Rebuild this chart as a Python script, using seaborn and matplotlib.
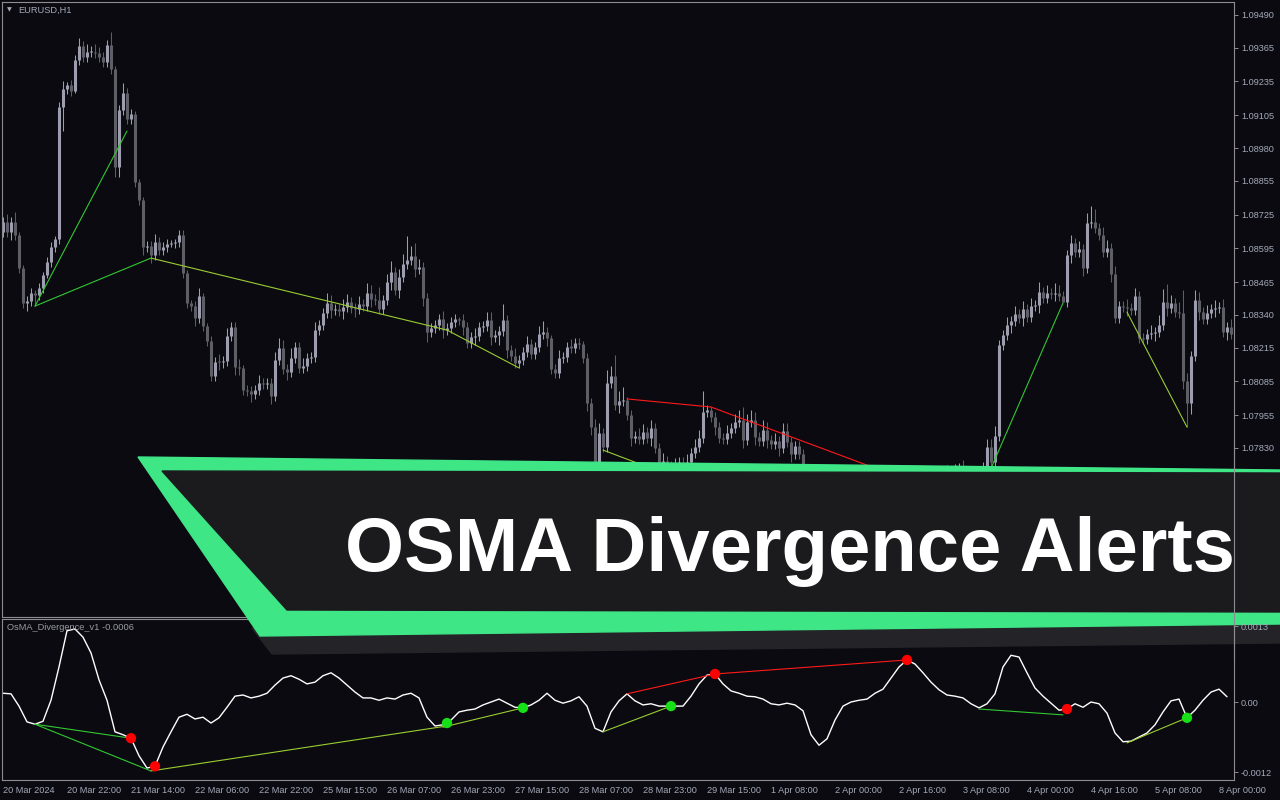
import numpy as np
import pandas as pd
import seaborn as sns
import matplotlib.pyplot as plt
from matplotlib.patches import Polygon
from matplotlib.lines import Line2D
from matplotlib.transforms import Affine2D

# ---------------------------------------------------------------
# Data (EURUSD H1, prices as points above 1.07000)
# ---------------------------------------------------------------
BASE = 1.07
OPEN0 = 1658
closes = [
    1696, 1658, 1696, 1647, 1520, 1386, 1394, 1424, 1416, 1443,
    1493, 1543, 1600, 1631, 2137, 2206, 2222, 2199, 2317, 2371,
    2329, 2348, 2350, 2346, 2329, 2310, 2375, 2283, 1907, 2126,
    2191, 2091, 2110, 1850, 1781, 1600, 1604, 1570, 1620, 1589,
    1600, 1612, 1616, 1620, 1647, 1501, 1386, 1374, 1328, 1413,
    1298, 1240, 1106, 1160, 1158, 1163, 1259, 1294, 1140, 1138,
    1052, 1048, 1037, 1052, 1079, 1075, 1079, 1029, 1167, 1213,
    1133, 1121, 1175, 1217, 1137, 1144, 1175, 1179, 1282, 1301,
    1347, 1386, 1359, 1363, 1355, 1370, 1390, 1367, 1363, 1382,
    1374, 1424, 1401, 1397, 1363, 1397, 1466, 1505, 1436, 1485,
    1535, 1551, 1566, 1516, 1524, 1405, 1275, 1290, 1301, 1324,
    1282, 1290, 1313, 1324, 1322, 1294, 1232, 1255, 1259, 1294,
    1298, 1321, 1255, 1263, 1278, 1321, 1206, 1182, 1156, 1167,
    1198, 1229, 1190, 1217, 1267, 1275, 1252, 1133, 1117, 1175,
    1179, 1217, 1215, 1232, 1230, 1175, 1002, 910, 765, 887,
    834, 1079, 1106, 995, 1010, 1014, 956, 868, 876, 864,
    891, 868, 907, 830, 772, 780, 761, 745, 761, 776,
    761, 776, 811, 834, 868, 968, 976, 949, 910, 868,
    866, 887, 907, 930, 937, 860, 930, 937, 872, 857,
    899, 860, 845, 857, 830, 895, 853, 807, 838, 807,
    745, 715, 684, 661, 692, 646, 623, 654, 677, 642,
    615, 638, 669, 688, 657, 630, 607, 638, 665, 684,
    669, 650, 677, 703, 722, 696, 673, 692, 665, 638,
    611, 630, 654, 677, 700, 719, 734, 711, 738, 753,
    730, 707, 684, 661, 677, 745, 834, 776, 876, 1225,
    1263, 1301, 1317, 1344, 1328, 1363, 1332, 1374, 1378, 1428,
    1405, 1424, 1422, 1424, 1413, 1390, 1570, 1616, 1581, 1593,
    1520, 1692, 1696, 1673, 1647, 1581, 1597, 1497, 1328, 1374,
    1372, 1367, 1359, 1413, 1252, 1248, 1267, 1271, 1275, 1301,
    1390, 1367, 1386, 1351, 1347, 1087, 1002, 1183, 1397, 1351,
    1324, 1347, 1363, 1367, 1370, 1275, 1294, 1267,
]
# wick lengths, one digit per bar, in pips
upper_wick = (
    "2324112212" "1221231223" "2323222512" "4221112232" "2211221123"
    "1122323223" "1222322234" "3242232232" "2432233223" "2432523423"
    "4945322222" "3222122232" "2332262232" "2322342123" "2232212234"
    "2548451223" "3232232232" "2323382122" "2323453432" "4323233222"
    "2232322322" "3223223223" "2323422322" "2322323232" "3222333342"
    "2323232324" "2324322323" "2465233232" "2323222324" "5732493243"
    "23232323"
)
lower_wick = (
    "2232223242" "2122292212" "2222222244" "2222232322" "2212222232"
    "2222322233" "2232222322" "2322222222" "2232232232" "2232222323"
    "2223234222" "3222232232" "2232423222" "2222223222" "2222223333"
    "2222322322" "2232232322" "2322222232" "2222232232" "2322322322"
    "3223223223" "2232232232" "2322232232" "3223223222" "2322232232"
    "2232232223" "2223202322" "3222222322" "2322222232" "2322239423"
    "22232232"
)

# OsMA value on every second bar, in 1e-5
osma = [
    15, 14, -7, -34, -38, -33, 3, 60, 122, 125,
    111, 84, 38, 3, -51, -56, -62, -92, -113, -110,
    -77, -51, -26, -21, -29, -26, -36, -27, -9, 10,
    12, 7, 10, 15, 29, 41, 45, 39, 31, 34,
    45, 50, 41, 29, 17, 7, 7, 3, 7, 5,
    12, 15, 7, -26, -41, -39, -31, -17, -14, -12,
    -5, 0, 5, -2, -9, -10, -5, 3, 15, 3,
    -2, 2, 9, -7, -45, -51, -17, 2, 14, 2,
    -5, -3, -7, -7, -7, -7, 10, 31, 46, 48,
    31, 19, 15, 10, 9, 5, -3, -5, -2, -5,
    -15, -56, -74, -63, -31, -7, 0, 3, 5, 15,
    22, 41, 60, 72, 65, 50, 34, 21, 12, 10,
    7, -3, -10, -3, 14, 60, 80, 77, 50, 24,
    10, -2, -14, -12, -3, -9, 0, -3, -19, -53,
    -68, -67, -60, -53, -39, -17, 2, 5, -27, -14,
    3, 17, 22, 9,
]

# divergence signals (bar, value)
sell_bars = [32, 38, 178, 226, 266]
sell_vals = [-62, -110, 48, 72, -12]
buy_bars = [111, 130, 167, 296]
buy_vals = [-36, -10, -7, -27]

# divergence trend lines: (bar0, price0, bar1, price1)
price_lines = [
    (8, 1.08374, 31, 1.09045), (8, 1.08374, 37, 1.08558),
    (37, 1.08558, 111, 1.08282), (111, 1.08282, 129, 1.08137),
    (150, 1.07822, 167, 1.07723), (156, 1.08018, 177, 1.07987),
    (177, 1.07987, 226, 1.07707), (244, 1.07646, 265, 1.08386),
    (281, 1.08351, 296, 1.07910),
]
osma_lines = [
    (8, -38, 32, -62), (8, -38, 37, -118),
    (37, -118, 111, -41), (110, -43, 130, -10),
    (150, -51, 167, -7), (156, 14, 178, 48),
    (178, 48, 226, 72), (244, -12, 265, -22),
    (281, -70, 296, -27),
]
line_kind = ["bull", "bull", "hidden", "hidden", "hidden",
             "bear", "bear", "bull", "hidden"]

price_ticks = [1.09490, 1.09365, 1.09235, 1.09105, 1.08980, 1.08855, 1.08725,
               1.08595, 1.08465, 1.08340, 1.08215, 1.08085, 1.07955, 1.07830,
               1.07700, 1.07570, 1.07445, 1.07315, 1.07190]
osma_ticks = [0.0013, 0.0, -0.0012]
osma_tick_labels = ["0.0013", "0.00", "-0.0012"]
time_labels = ["20 Mar 2024", "20 Mar 22:00", "21 Mar 14:00", "22 Mar 06:00",
               "22 Mar 22:00", "25 Mar 15:00", "26 Mar 07:00", "26 Mar 23:00",
               "27 Mar 15:00", "28 Mar 07:00", "28 Mar 23:00", "29 Mar 15:00",
               "1 Apr 08:00", "2 Apr 00:00", "2 Apr 16:00", "3 Apr 08:00",
               "4 Apr 00:00", "4 Apr 16:00", "5 Apr 08:00", "8 Apr 00:00"]

# ---------------------------------------------------------------
# Build candle table
# ---------------------------------------------------------------
close = BASE + np.array(closes) / 1e5
open_ = np.r_[BASE + OPEN0 / 1e5, close[:-1]]
up = np.array([int(c) for c in upper_wick]) * 10 / 1e5
dn = np.array([int(c) for c in lower_wick]) * 10 / 1e5
df = pd.DataFrame({"bar": np.arange(len(close)), "open": open_, "close": close})
df["top"] = df[["open", "close"]].max(axis=1)
df["bottom"] = df[["open", "close"]].min(axis=1)
df["high"] = df["top"] + up
df["low"] = df["bottom"] - dn
df["bull"] = df["close"] >= df["open"]
# keep doji bodies visible (about one pixel)
df["top"] = np.maximum(df["top"], df["bottom"] + 0.00004)

osma_df = pd.DataFrame({"bar": np.arange(0, 2 * len(osma), 2),
                        "osma": np.array(osma) / 1e5})

# ---------------------------------------------------------------
# Style
# ---------------------------------------------------------------
BG = "#0a0a10"
SPINE = "#8c8c92"
LABEL = "#a5aab9"
BULL = "#9d9daf"
BEAR = "#5e5e66"
KIND_COLOR = {"bull": "#32c832", "hidden": "#9acd32", "bear": "#ff1a1a"}

sns.set_theme(style="dark", rc={"axes.facecolor": BG, "figure.facecolor": BG})
plt.rcParams["font.family"] = ["Liberation Sans", "DejaVu Sans"]

fig = plt.figure(figsize=(12.8, 8), dpi=100)
ax = fig.add_axes([2 / 1280, 1 - 617 / 800, 1232 / 1280, 615 / 800])
ax2 = fig.add_axes([2 / 1280, 1 - 780 / 800, 1232 / 1280, 161 / 800], zorder=2)
ax2.set_facecolor("none")

# candles: thin wick + 3 px body
colors = np.where(df["bull"], BULL, BEAR)
ax.vlines(df["bar"], df["low"], df["high"], colors=colors, linewidth=0.75)
ax.vlines(df["bar"], df["bottom"], df["top"], colors=colors, linewidth=2.2,
          capstyle="butt")

for (b0, p0, b1, p1), kind in zip(price_lines, line_kind):
    ax.plot([b0, b1], [p0, p1], color=KIND_COLOR[kind], lw=0.8)

ax.set_xlim(-0.25, 307.75)
ax.set_ylim(1.071819, 1.095398)
ax.set_xticks([])
ax.yaxis.tick_right()
ax.set_yticks(price_ticks)
ax.set_yticklabels([f"{t:.5f}" for t in price_ticks])
ax.tick_params(axis="y", direction="out", length=3, width=0.7, color=SPINE,
               labelcolor=LABEL, labelsize=6.6, pad=2)
for s in ax.spines.values():
    s.set_color(SPINE)
    s.set_linewidth(0.8)
ax.grid(False)

# OsMA pane
sns.lineplot(data=osma_df, x="bar", y="osma", color="white", lw=1.0, ax=ax2)
for (b0, v0, b1, v1), kind in zip(osma_lines, line_kind):
    ax2.plot([b0, b1], [v0 / 1e5, v1 / 1e5], color=KIND_COLOR[kind], lw=0.8)
sns.scatterplot(x=sell_bars, y=np.array(sell_vals) / 1e5, color="#ff0000",
                s=55, edgecolor="none", ax=ax2, zorder=5)
sns.scatterplot(x=buy_bars, y=np.array(buy_vals) / 1e5, color="#16e016",
                s=55, edgecolor="none", ax=ax2, zorder=5)

ax2.set_xlim(-0.25, 307.75)
ax2.set_ylim(-0.001335, 0.001421)
ax2.set_xlabel("")
ax2.set_ylabel("")
ax2.yaxis.tick_right()
ax2.set_yticks(osma_ticks)
ax2.set_yticklabels(osma_tick_labels)
ax2.set_xticks(np.arange(0, 16 * len(time_labels), 16))
ax2.set_xticklabels(time_labels)
for lab in ax2.get_xticklabels():
    lab.set_ha("left")
ax2.tick_params(direction="out", length=3, width=0.7, color=SPINE,
                labelcolor=LABEL, labelsize=6.6, pad=1.5)
ax2.tick_params(axis="y", pad=2)
for s in ax2.spines.values():
    s.set_color(SPINE)
    s.set_linewidth(0.8)
ax2.spines["top"].set_visible(False)
ax2.grid(False)

# pane separator and labels
fig.add_artist(Line2D([2 / 1280, 1234 / 1280], [1 - 619 / 800] * 2,
                      color=SPINE, lw=0.8, zorder=0.5))
fig.text(9 / 1280, 1 - 10 / 800, "\u25bc", fontsize=4.5, color=LABEL,
         ha="center", va="center", family=["DejaVu Sans"])
fig.text(18 / 1280, 1 - 10 / 800, "EURUSD,H1", fontsize=6.7, color=LABEL,
         ha="left", va="center")
fig.text(7 / 1280, 1 - 628 / 800, "OsMA_Divergence_v1 -0.0006", fontsize=6.7,
         color="#9a9aa2", ha="left", va="center", zorder=3)

# ---------------------------------------------------------------
# Banner overlay (pixel coordinates)
# ---------------------------------------------------------------
px = Affine2D().scale(1 / 1280, -1 / 800).translate(0, 1) + fig.transFigure
shadow = Polygon([(252, 628), (1280, 618), (1280, 643), (272, 654)],
                 closed=True, color="#232328", transform=px, zorder=1)
outer = Polygon([(138, 457), (1280, 470), (1280, 624), (260, 636)],
                closed=True, color="#3ee686", transform=px, zorder=1.1)
inner = Polygon([(162, 471), (1280, 473), (1280, 612), (287, 610)],
                closed=True, color="#1b1b1e", transform=px, zorder=1.2)
for p in (shadow, outer, inner):
    fig.add_artist(p)
fig.text(345 / 1280, 1 - 571 / 800, "OSMA Divergence Alerts", fontsize=54.7,
         fontweight="bold", color="white", ha="left", va="baseline",
         family=["Liberation Sans", "DejaVu Sans"], zorder=1.5)
fig.add_artist(Line2D([1234 / 1280] * 2, [1 - 440 / 800, 1 - 660 / 800],
                      color=SPINE, lw=0.8, zorder=3))

fig.savefig("out.png", dpi=100, facecolor=BG)
